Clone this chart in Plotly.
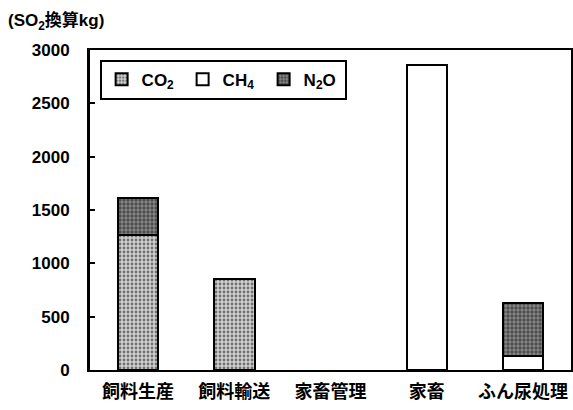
import plotly.graph_objects as go

categories = ["飼料生産", "飼料輸送", "家畜管理", "家畜", "ふん尿処理"]
co2 = [1265, 850, None, None, None]
ch4 = [None, None, None, 2860, 130]
n2o = [350, None, None, None, 500]
y_ticks = [0, 500, 1000, 1500, 2000, 2500, 3000]

FONT = "Liberation Sans, Arial, Noto Sans CJK JP, sans-serif"

fig = go.Figure()
fig.add_trace(go.Bar(
    x=categories, y=co2, name="CO<sub>2</sub>",
    marker=dict(color="#bbb", line=dict(color="black", width=2),
                pattern=dict(shape=".", fgcolor="#111", bgcolor="#d0d0d0", size=4, solidity=0.4)),
))
fig.add_trace(go.Bar(
    x=categories, y=ch4, name="CH<sub>4</sub>",
    marker=dict(color="white", line=dict(color="black", width=2)),
))
fig.add_trace(go.Bar(
    x=categories, y=n2o, name="N<sub>2</sub>O",
    marker=dict(color="#666", line=dict(color="black", width=2),
                pattern=dict(shape=".", fgcolor="#111", bgcolor="#888", size=4, solidity=0.55)),
))

fig.update_layout(
    width=573, height=410,
    barmode="stack", bargap=0.58,
    margin=dict(l=90, r=2, t=50, b=40, autoexpand=False),
    paper_bgcolor="white", plot_bgcolor="white",
    font=dict(family=FONT, size=15, color="black", weight="bold"),
    showlegend=True,
    legend=dict(orientation="h", x=0.02, y=0.97, xanchor="left", yanchor="top",
                bordercolor="black", borderwidth=2, bgcolor="white",
                itemwidth=30, tracegroupgap=0, traceorder="normal",
                entrywidth=36,
                font=dict(family=FONT, size=17, color="black", weight="bold")),
    annotations=[dict(text="(SO<sub>2</sub>換算kg)", xref="paper", yref="paper",
                      x=-0.175, y=1.0, xanchor="left", yanchor="bottom", yshift=15,
                      showarrow=False, font=dict(family=FONT, size=17, color="black", weight="bold"))],
)
fig.update_xaxes(showline=True, linecolor="black", linewidth=2, mirror=True,
                 ticks="", automargin=False, ticklabelstandoff=4,
                 tickfont=dict(family=FONT, size=18, weight="bold"))
fig.update_yaxes(range=[0, 3000], tickvals=y_ticks, showgrid=False, zeroline=False,
                 showline=True, linecolor="black", linewidth=3, mirror=True,
                 ticks="inside", ticklen=5, tickwidth=2, tickcolor="black",
                 ticklabelstandoff=14, automargin=False,
                 tickfont=dict(family=FONT, size=17, weight="bold"))

fig.write_html("out.html", config={"displayModeBar": False},
               post_script="document.body.style.margin='0';")
